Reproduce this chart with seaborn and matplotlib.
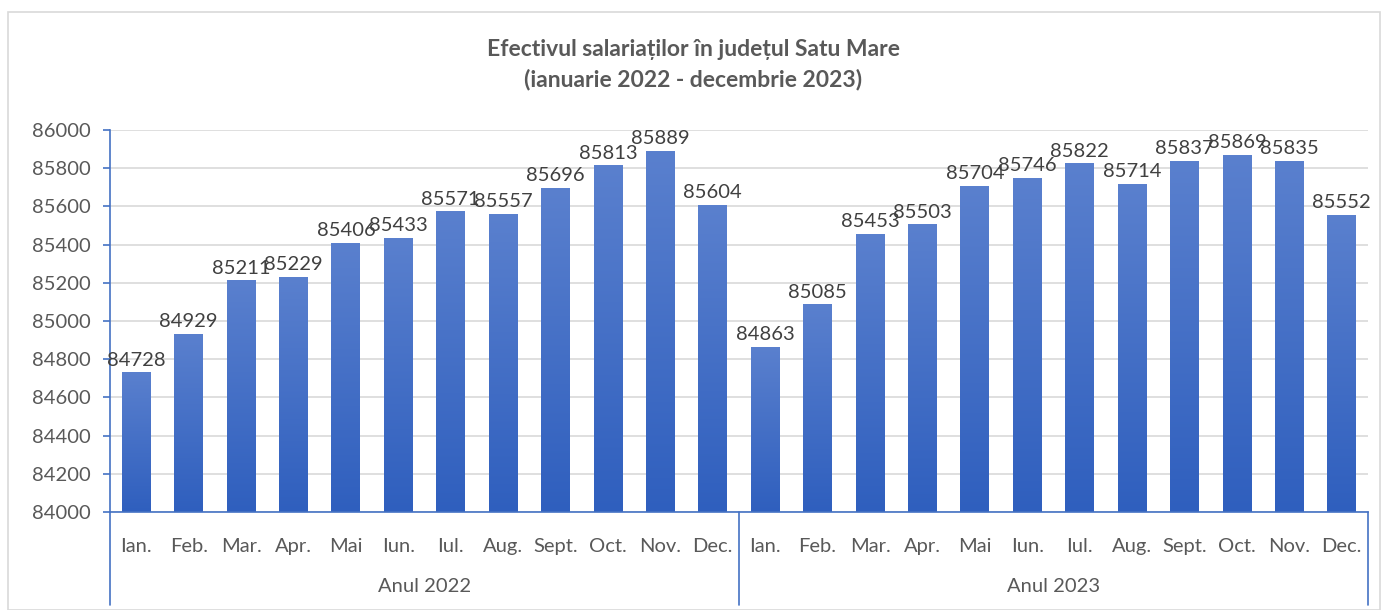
import numpy as np
import pandas as pd
import matplotlib
matplotlib.use('Agg')
import matplotlib.pyplot as plt
import seaborn as sns
from matplotlib.colors import LinearSegmentedColormap

# date
luni = ['Ian.', 'Feb.', 'Mar.', 'Apr.', 'Mai', 'Iun.', 'Iul.', 'Aug.', 'Sept.', 'Oct.', 'Nov.', 'Dec.']
ani = ['Anul 2022', 'Anul 2023']
val_2022 = [84728, 84929, 85211, 85229, 85406, 85433, 85571, 85557, 85696, 85813, 85889, 85604]
val_2023 = [84863, 85085, 85453, 85503, 85704, 85746, 85822, 85714, 85837, 85869, 85835, 85552]

df = pd.DataFrame({
    'poz': range(24),
    'luna': luni * 2,
    'an': [ani[0]] * 12 + [ani[1]] * 12,
    'valoare': val_2022 + val_2023,
})

sns.set_theme(style='white')
plt.rcParams['font.family'] = ['Lato', 'DejaVu Sans']

fig = plt.figure(figsize=(13.87, 6.10), dpi=100)
ax = fig.add_axes([110 / 1387, 1 - 512 / 610, 1258 / 1387, 382 / 610])

sns.barplot(data=df, x='poz', y='valoare', color='#4472C4', width=0.55,
            saturation=1, ax=ax, native_scale=True)

ax.set_ylim(84000, 86000)
ax.set_xlim(-0.5, 23.5)
ax.set_yticks(np.arange(84000, 86001, 200))
ax.yaxis.grid(True, color='#d9d9d9', linewidth=1.2)
ax.set_axisbelow(True)

# gradient pe bare (doar partea vizibila)
cmap = LinearSegmentedColormap.from_list('grad', ['#2f5fbe', '#5a80ce'])
grad = np.linspace(0, 1, 256).reshape(-1, 1)
ymin = ax.get_ylim()[0]
for bar in ax.patches:
    x0, w = bar.get_x(), bar.get_width()
    top = bar.get_y() + bar.get_height()
    bar.set_alpha(0)
    ax.imshow(grad, cmap=cmap, origin='lower', aspect='auto',
              extent=[x0, x0 + w, ymin, top], zorder=2)
ax.set_xlim(-0.5, 23.5)
ax.set_ylim(84000, 86000)

for bar, v in zip(ax.patches, df['valoare']):
    ax.annotate(f'{v}', (bar.get_x() + bar.get_width() / 2, bar.get_height() + bar.get_y()),
                xytext=(0, 3), textcoords='offset points', ha='center', va='bottom',
                fontsize=14.5, color='#404040', zorder=3)

for s in ['top', 'right']:
    ax.spines[s].set_visible(False)
ax.spines['left'].set_color('#4472C4')
ax.spines['bottom'].set_color('#4472C4')
ax.spines['left'].set_linewidth(1.2)
ax.spines['bottom'].set_linewidth(1.2)
ax.spines['bottom'].set_zorder(4)
ax.tick_params(axis='y', left=True, length=5, width=1.2, color='#4472C4',
               labelsize=14.5, labelcolor='#595959', pad=9)
ax.set_xticks(range(24))
ax.set_xticklabels(df['luna'], fontsize=14.5, color='#595959')
ax.tick_params(axis='x', bottom=False, pad=13)
ax.set_xlabel('')
ax.set_ylabel('')

# separatoare si etichete ani
ybot = -(605 - 512) / 382
for xs in [-0.5, 11.5, 23.5]:
    ax.plot([xs, xs], [0, ybot], transform=ax.get_xaxis_transform(),
            color='#4472C4', linewidth=1.2, clip_on=False)
for i, an in enumerate(ani):
    ax.text(i * 12 + 5.5, -(587 - 512) / 382, an, transform=ax.get_xaxis_transform(),
            ha='center', va='center', fontsize=14.5, color='#595959')

fig.text(0.5, 1 - 50 / 610, 'Efectivul salariaților în județul Satu Mare',
         ha='center', va='center', fontsize=16.5, fontweight='bold', color='#595959')
fig.text(0.5, 1 - 80 / 610, '(ianuarie 2022 - decembrie 2023)',
         ha='center', va='center', fontsize=16.5, fontweight='bold', color='#595959')

fig.patches.append(plt.Rectangle((8 / 1387, 0), 1372 / 1387, 1 - 12 / 610,
                                 transform=fig.transFigure, fill=False,
                                 edgecolor='#d9d9d9', linewidth=1.2))

fig.savefig('out.png', dpi=100)
